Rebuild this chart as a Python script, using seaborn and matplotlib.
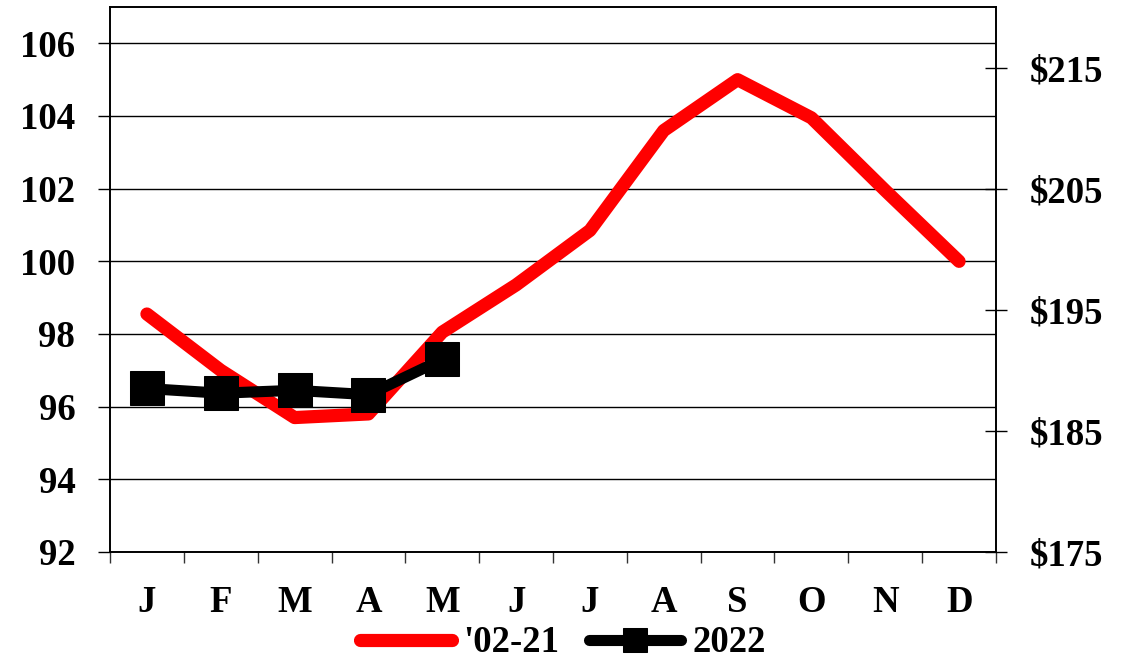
"""Monthly index: 2002-21 average vs 2022, with dollar scale on the right."""

import matplotlib.pyplot as plt
import pandas as pd
import seaborn as sns


MONTHS = ["J", "F", "M", "A", "M", "J", "J", "A", "S", "O", "N", "D"]
AVG_02_21 = [98.55, 97.0, 95.7, 95.8, 98.05, 99.35, 100.85, 103.6, 105.0, 103.95, 101.95, 100.0]
Y2022 = [96.5, 96.37, 96.45, 96.33, 97.3]
LEFT_TICKS = [92, 94, 96, 98, 100, 102, 104, 106]
RIGHT_TICKS = [175, 185, 195, 205, 215]
RIGHT_LABELS = ["$175", "$185", "$195", "$205", "$215"]

sns.set_theme(style="white")
plt.rcParams["font.family"] = ["Liberation Serif", "DejaVu Serif"]
plt.rcParams["font.weight"] = "bold"
plt.rcParams["text.color"] = "black"
plt.rcParams["xtick.color"] = "black"
plt.rcParams["ytick.color"] = "black"

FS = 26.5

avg_df = pd.DataFrame({"pos": range(len(MONTHS)), "value": AVG_02_21})
cur_df = pd.DataFrame({"pos": range(len(Y2022)), "value": Y2022})

fig = plt.figure(figsize=(11.3, 6.6), dpi=100)
ax = fig.add_axes([110 / 1130, 108 / 660, 886 / 1130, 545 / 660])

sns.lineplot(data=avg_df, x="pos", y="value", color="#ff0000", linewidth=9.5,
             solid_capstyle="round", label="'02-21", ax=ax, zorder=3)
sns.lineplot(data=cur_df, x="pos", y="value", color="black", linewidth=8,
             marker="s", markersize=25, markeredgecolor="black",
             label="2022", ax=ax, zorder=4)

ax.set_xlim(-0.5, 11.5)
ax.set_ylim(92, 107)
ax.set_yticks(LEFT_TICKS)
ax.set_yticklabels([str(t) for t in LEFT_TICKS], fontsize=FS, fontweight="bold")
ax.set_xticks(range(len(MONTHS)))
ax.set_xticklabels(MONTHS, fontsize=FS, fontweight="bold")
ax.set_xticks([i - 0.5 for i in range(len(MONTHS) + 1)], minor=True)
ax.tick_params(axis="x", which="major", length=0, pad=24, labelcolor="black")
ax.tick_params(axis="x", which="minor", length=8, width=1, direction="out",
               color="#333333", bottom=True)
ax.tick_params(axis="y", length=9, width=1, direction="out", color="black",
               pad=16, left=True, labelcolor="black")
ax.grid(axis="y", color="black", linewidth=1)
ax.set_xlabel("")
ax.set_ylabel("")
for spine in ax.spines.values():
    spine.set_color("black")
    spine.set_linewidth(1.2)

ax2 = ax.twinx()
ax2.set_ylim(175, 220)
ax2.set_yticks(RIGHT_TICKS)
ax2.set_yticklabels(RIGHT_LABELS, fontsize=FS, fontweight="bold")
ax2.tick_params(axis="y", length=16, width=1, direction="inout", color="black",
                pad=16, right=True, labelcolor="black")
for spine in ax2.spines.values():
    spine.set_color("black")
    spine.set_linewidth(1.2)

handles, labels = ax.get_legend_handles_labels()
ax.get_legend().remove()
fig.legend(handles, labels, loc="center", bbox_to_anchor=(563 / 1130, 1 - 643 / 660),
           ncol=2, frameon=False, handlelength=2.5, markerscale=0.7,
           handletextpad=0.3, columnspacing=0.8, borderaxespad=0,
           prop={"weight": "bold", "size": FS})

fig.savefig("out.png", dpi=100)
plt.close(fig)
